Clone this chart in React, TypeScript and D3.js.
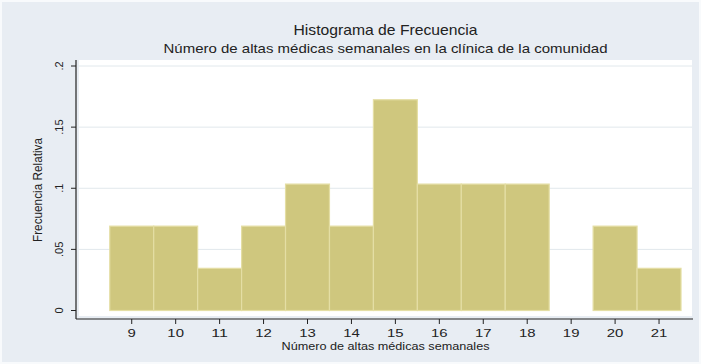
import React from "react";
import * as d3 from "d3";

const bins: number[] = [9, 10, 11, 12, 13, 14, 15, 16, 17, 18, 19, 20, 21];
const relFreq: number[] = [0.069, 0.069, 0.0345, 0.069, 0.1034, 0.069, 0.1724, 0.1034, 0.1034, 0.1034, 0, 0.069, 0.0345];
const yTicks: number[] = [0, 0.05, 0.1, 0.15, 0.2];
const yTickLabels: string[] = ["0", ".05", ".1", ".15", ".2"];
const xTicks: number[] = [9, 10, 11, 12, 13, 14, 15, 16, 17, 18, 19, 20, 21];

const title = "Histograma de Frecuencia";
const subtitle = "Número de altas médicas semanales en la clínica de la comunidad";
const xTitle = "Número de altas médicas semanales";
const yTitle = "Frecuencia Relativa";

const W = 701;
const H = 364;
const plot = { left: 79, right: 692, top: 60, bottom: 316 };
const axisX = 76;
const axisY = 319;

export default function App() {
  const x = d3.scaleLinear().domain([7.8, 21.75]).range([plot.left, plot.right]);
  const y = d3.scaleLinear().domain([0, 0.2]).range([310.5, 66]);
  const font = "'Liberation Sans', Arial, sans-serif";
  const cx = (plot.left + plot.right) / 2;

  return (
    <svg width={W} height={H} style={{ position: "absolute", left: 0, top: 0 }} fontFamily={font}>
      <rect x={0} y={0} width={W} height={H} fill="#E8EDF3" stroke="#F8FAFC" strokeWidth={4} />
      <rect x={plot.left} y={plot.top} width={plot.right - plot.left} height={plot.bottom - plot.top} fill="#FFFFFF" />
      {yTicks.filter((t) => t > 0).map((t) => (
        <line key={"g" + t} x1={plot.left} x2={plot.right} y1={y(t)} y2={y(t)} stroke="#E1E8EC" strokeWidth={1} />
      ))}
      {bins.map((b, i) =>
        relFreq[i] > 0 ? (
          <rect
            key={"b" + b}
            x={x(b - 0.5)}
            y={y(relFreq[i])}
            width={x(b + 0.5) - x(b - 0.5)}
            height={y(0) - y(relFreq[i])}
            fill="#CFC77E"
            stroke="#E4DEA4"
            strokeWidth={1.2}
          />
        ) : null
      )}
      <line x1={axisX} x2={axisX} y1={plot.top} y2={axisY} stroke="#222" strokeWidth={1.2} />
      <line x1={axisX} x2={plot.right + 1} y1={axisY} y2={axisY} stroke="#222" strokeWidth={1.2} />
      {yTicks.map((t, i) => (
        <g key={"yt" + t}>
          <line x1={axisX - 5} x2={axisX} y1={y(t)} y2={y(t)} stroke="#222" strokeWidth={1} />
          <text
            transform={`translate(63, ${y(t)}) rotate(-90)`}
            textAnchor="middle"
            fontSize={11}
            fill="#222"
          >
            {yTickLabels[i]}
          </text>
        </g>
      ))}
      {xTicks.map((t) => (
        <g key={"xt" + t}>
          <line x1={x(t)} x2={x(t)} y1={axisY} y2={axisY + 5} stroke="#222" strokeWidth={1} />
          <text
            x={x(t)}
            y={337}
            textAnchor="middle"
            fontSize={11}
            fill="#222"
            textLength={String(t).length * 8.3}
            lengthAdjust="spacingAndGlyphs"
          >
            {t}
          </text>
        </g>
      ))}
      <text x={cx} y={350} textAnchor="middle" fontSize={11} fill="#222" textLength={208} lengthAdjust="spacingAndGlyphs">
        {xTitle}
      </text>
      <text
        transform={`translate(42, ${(plot.top + plot.bottom) / 2 + 2}) rotate(-90)`}
        textAnchor="middle"
        fontSize={12}
        fill="#222"
        textLength={104}
        lengthAdjust="spacingAndGlyphs"
      >
        {yTitle}
      </text>
      <text x={cx} y={35} textAnchor="middle" fontSize={14.5} fill="#222" textLength={184} lengthAdjust="spacingAndGlyphs">
        {title}
      </text>
      <text x={cx} y={53} textAnchor="middle" fontSize={13} fill="#222" textLength={444} lengthAdjust="spacingAndGlyphs">
        {subtitle}
      </text>
    </svg>
  );
}
